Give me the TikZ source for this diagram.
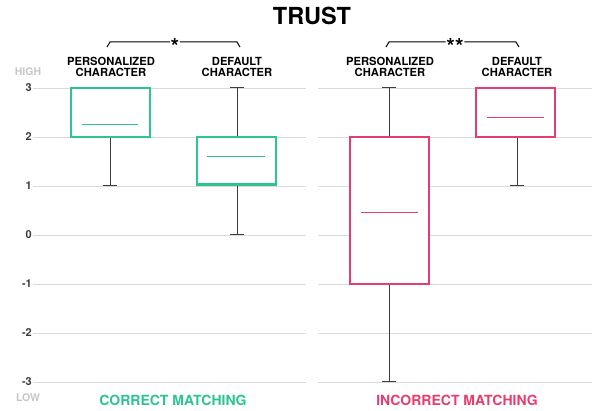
\documentclass[tikz,border=0pt]{standalone}
\usepackage{fontspec}
\setmainfont{TeX Gyre Heros}
\usetikzlibrary{positioning}
\definecolor{corr}{RGB}{43,196,146}
\definecolor{incorr}{RGB}{228,62,112}
\definecolor{gridgray}{RGB}{218,218,218}
\definecolor{tickgray}{RGB}{60,60,60}

\begin{document}
\begin{tikzpicture}[x=1pt, y=-1pt,
    grp/.style={font=\bfseries\fontsize{11.2}{11}\selectfont, align=center, inner sep=1pt},
    tick/.style={font=\bfseries\fontsize{11}{11}\selectfont, text=tickgray, anchor=east, inner sep=1pt},
    endlabel/.style={font=\bfseries\fontsize{10.5}{10}\selectfont, text=gray!45, inner sep=1pt},
    whisk/.style={draw=tickgray, line width=0.8pt},
    wcap/.style={draw=tickgray, line width=1pt},
    bx/.style={line width=2.8pt},
    med/.style={line width=0.9pt},
    star/.style={font=\bfseries\fontsize{22}{22}\selectfont, inner sep=0.5pt},
    panel/.style={font=\bfseries\fontsize{14}{14}\selectfont}]
    \useasboundingbox (0,0) rectangle (597,411);

    \node [font=\bfseries\fontsize{23.5}{24}\selectfont] (title) at (312,16) {TRUST};

    % grid and y axis
    \begin{scope}[shift={(0,235)}, y=49pt]
    \foreach \v in {-3,...,3} {
        \node [tick] (t\v) at (33,\v) {\v};
        \draw [gridgray, line width=0.8pt] (t\v.east) -- (306,\v);
        \draw [gridgray, line width=0.8pt] (318,\v) -- (592,\v);
    }
    \end{scope}
    \node [endlabel] (high) at (28,72) {HIGH};
    \node [endlabel] (low) at (28,398) {LOW};

    % box plots
    \begin{scope}[shift={(0,235)}, y=49pt]
    % correct / personalized
    \coordinate (cp) at (110,1);
    \draw [whisk] (110,2) -- (cp);
    \draw [wcap] ([xshift=-7pt]cp) -- ([xshift=7pt]cp);
    \draw [corr, bx, fill=white] (71,3) rectangle (150,2);
    \draw [corr, med] (82,2.25) -- (138,2.25);
    % correct / default
    \coordinate (cdt) at (237,3);
    \coordinate (cdb) at (237,0);
    \draw [whisk] (cdt) -- (237,2);
    \draw [whisk] (237,1) -- (cdb);
    \draw [wcap] ([xshift=-7pt]cdt) -- ([xshift=7pt]cdt);
    \draw [wcap] ([xshift=-7pt]cdb) -- ([xshift=7pt]cdb);
    \draw [corr, bx, fill=white] (197,2) rectangle (276,1.03);
    \draw [corr, med] (207,1.6) -- (265,1.6);
    % incorrect / personalized
    \coordinate (ipt) at (389,3);
    \coordinate (ipb) at (389,-3);
    \draw [whisk] (ipt) -- (389,2);
    \draw [whisk] (389,-1) -- (ipb);
    \draw [wcap] ([xshift=-7pt]ipt) -- ([xshift=7pt]ipt);
    \draw [wcap] ([xshift=-7pt]ipb) -- ([xshift=7pt]ipb);
    \draw [incorr, bx, fill=white] (350,2) rectangle (429,-1);
    \draw [incorr, med] (361,0.45) -- (418,0.45);
    % incorrect / default
    \coordinate (id) at (517,1);
    \draw [whisk] (517,2) -- (id);
    \draw [wcap] ([xshift=-7pt]id) -- ([xshift=7pt]id);
    \draw [incorr, bx, fill=white] (476,3) rectangle (555,2);
    \draw [incorr, med] (487,2.4) -- (544,2.4);
    \end{scope}

    % group labels
    \node [grp] (pc1) at (111,66.5) {PERSONALIZED\\CHARACTER};
    \node [grp] (dc1) at (237,66.5) {DEFAULT\\CHARACTER};
    \node [grp] (pc2) at (390,66.5) {PERSONALIZED\\CHARACTER};
    \node [grp] (dc2) at (517,66.5) {DEFAULT\\CHARACTER};

    % significance brackets
    \node [star] (s1) at (175,46) {*};
    \node [star] (s2) at (455,46) {**};
    \draw [line width=1pt] (s1.west |- 0,42) -- (110,42) -- (107,47);
    \draw [line width=1pt] (s1.east |- 0,42) -- (237,42) -- (240,47);
    \draw [line width=1pt] (s2.west |- 0,42) -- (389,42) -- (386,47);
    \draw [line width=1pt] (s2.east |- 0,42) -- (516,42) -- (519,47);

    % panel labels
    \node [panel, text=corr] (cm) at (173,400) {CORRECT MATCHING};
    \node [panel, text=incorr] (im) at (457,400) {INCORRECT MATCHING};
\end{tikzpicture}
\end{document}
